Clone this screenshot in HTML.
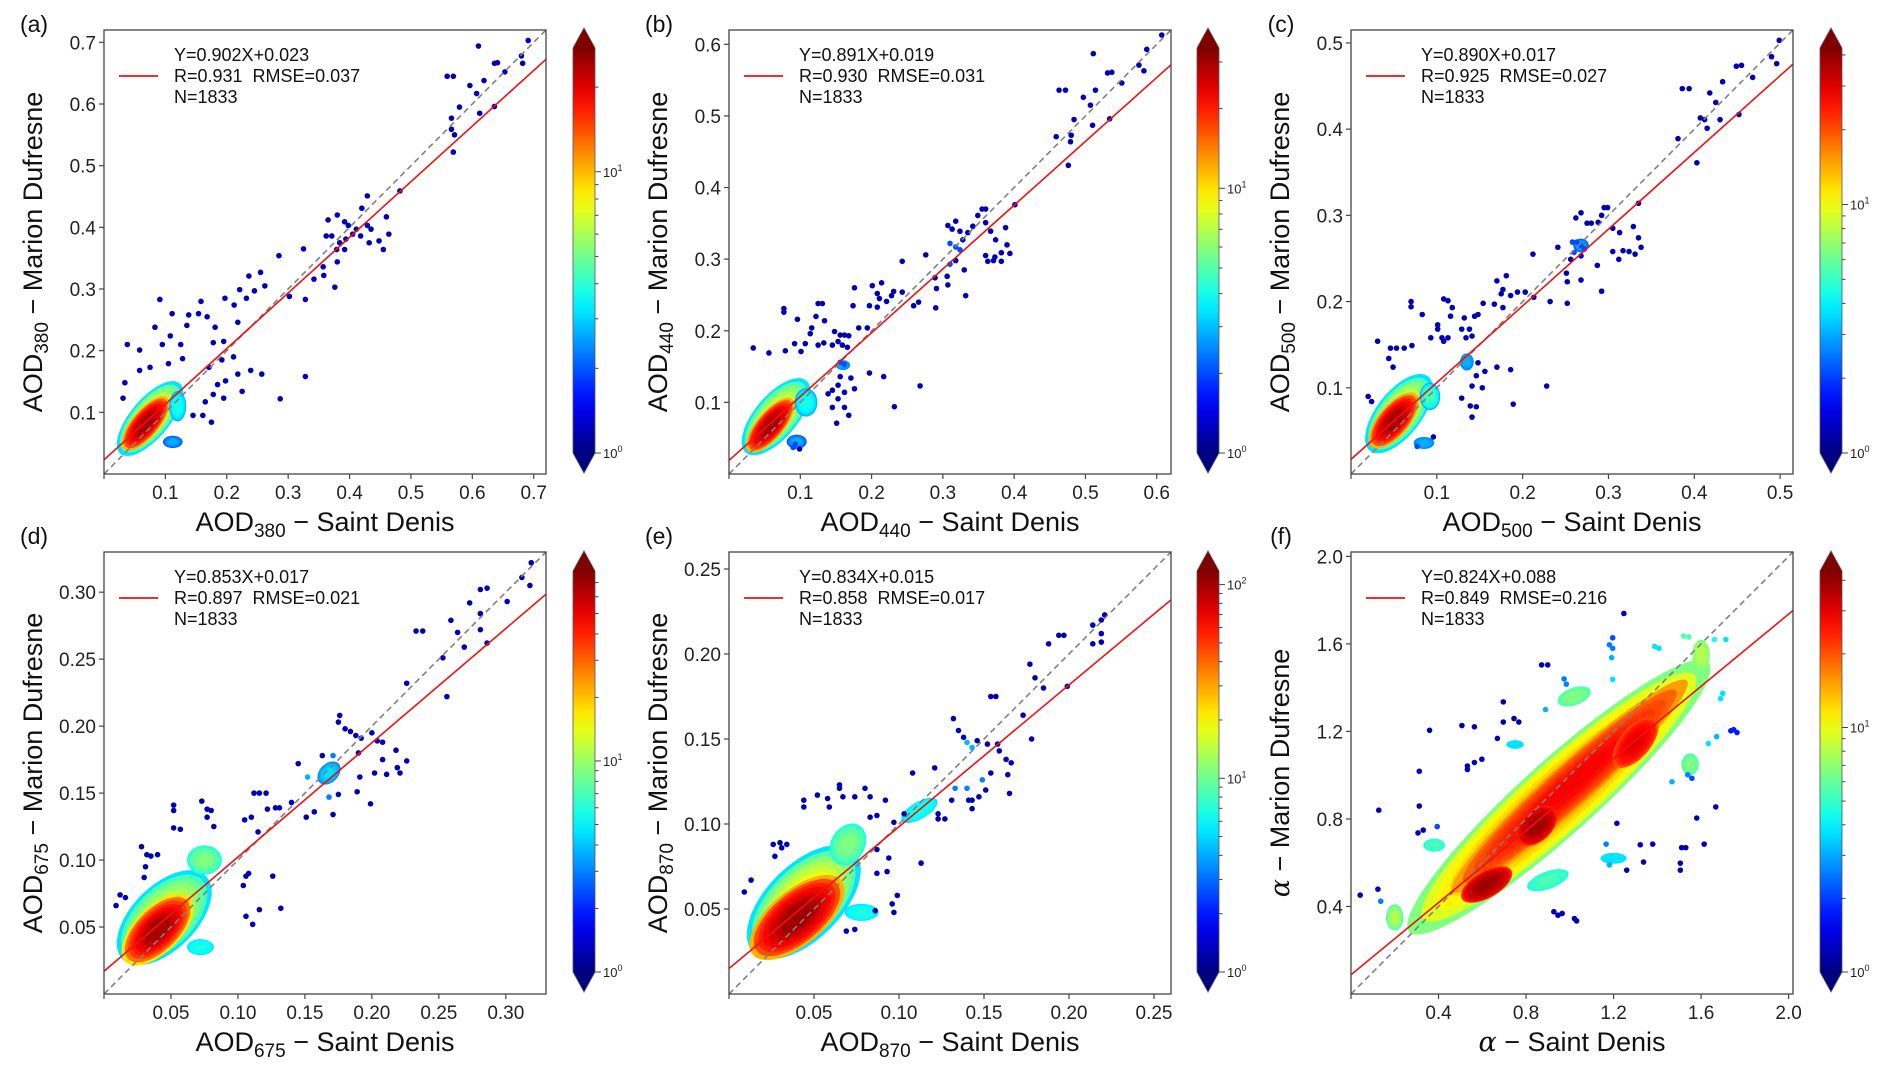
<!DOCTYPE html>
<html><head><meta charset="utf-8"><title>AOD comparison scatter plots</title>
<style>
html,body{margin:0;padding:0;background:#fff;}
svg{display:block;font-family:"Liberation Sans","DejaVu Sans",sans-serif;}
.pre{white-space:pre;}
</style></head>
<body>
<svg id="fig" width="1892" height="1074" viewBox="0 0 1892 1074" xmlns="http://www.w3.org/2000/svg"></svg>
<script>
// ---------- DATA ----------
const panelIds = ['a','b','c','d','e','f'];
const axisMax = [0.72, 0.62, 0.515, 0.33, 0.26, 2.02];
const ticksA = [0.1,0.2,0.3,0.4,0.5,0.6,0.7];
const ticksB = [0.1,0.2,0.3,0.4,0.5,0.6];
const ticksC = [0.1,0.2,0.3,0.4,0.5];
const ticksD = [0.05,0.10,0.15,0.20,0.25,0.30];
const ticksE = [0.05,0.10,0.15,0.20,0.25];
const ticksF = [0.4,0.8,1.2,1.6,2.0];
const tickDigits = [1,1,1,2,2,1];
const slopes = [0.902,0.891,0.890,0.853,0.834,0.824];
const intercepts = [0.023,0.019,0.017,0.017,0.015,0.088];
const rValues = ['0.931','0.930','0.925','0.897','0.858','0.849'];
const rmseValues = ['0.037','0.031','0.027','0.021','0.017','0.216'];
const nValues = ['1833','1833','1833','1833','1833','1833'];
const wavelengths = ['380','440','500','675','870','α'];
const cbarLogMax = [1.44,1.53,1.63,1.90,2.07,1.64];

// density blobs: [cx, cy, halfLength, halfWidth, angleDeg, lowLevel, highLevel]
const blobsA = [[0.075,0.09,0.075,0.032,50,0.35,0.65],[0.068,0.082,0.055,0.022,50,0.7,0.96],[0.112,0.052,0.016,0.01,0,0.2,0.3],[0.12,0.11,0.014,0.025,0,0.3,0.4]];
const blobsB = [[0.066,0.08,0.066,0.03,50,0.35,0.62],[0.058,0.068,0.048,0.019,50,0.7,0.96],[0.095,0.045,0.014,0.01,0,0.2,0.3],[0.16,0.152,0.01,0.007,0,0.25,0.3],[0.108,0.1,0.016,0.02,0,0.3,0.4]];
const blobsC = [[0.056,0.07,0.055,0.026,52,0.35,0.62],[0.05,0.062,0.04,0.018,50,0.7,0.96],[0.085,0.036,0.012,0.007,0,0.25,0.3],[0.268,0.265,0.009,0.008,0,0.2,0.3],[0.135,0.13,0.008,0.01,0,0.25,0.3],[0.092,0.09,0.012,0.016,0,0.3,0.45]];
const blobsD = [[0.045,0.057,0.044,0.024,45,0.35,0.6],[0.04,0.048,0.034,0.017,45,0.65,0.96],[0.168,0.165,0.01,0.007,45,0.25,0.35],[0.075,0.1,0.013,0.011,0,0.4,0.5],[0.072,0.035,0.01,0.006,0,0.35,0.4]];
const blobsE = [[0.044,0.054,0.042,0.022,45,0.35,0.65],[0.04,0.045,0.034,0.016,40,0.7,0.97],[0.07,0.088,0.013,0.01,60,0.4,0.5],[0.112,0.108,0.012,0.005,30,0.35,0.4],[0.078,0.048,0.01,0.005,0,0.35,0.4]];
const blobsF = [[0.95,0.9,0.92,0.17,42,0.5,0.75],[1.0,0.95,0.72,0.1,42,0.72,0.88],[0.62,0.5,0.13,0.06,30,0.85,0.97],[0.85,0.77,0.11,0.07,45,0.85,0.97],[1.3,1.15,0.14,0.07,50,0.8,0.9],[1.02,1.36,0.08,0.04,20,0.45,0.5],[0.2,0.35,0.04,0.06,0,0.45,0.55],[0.75,1.14,0.04,0.02,0,0.35,0.35],[1.55,1.05,0.04,0.05,0,0.45,0.5],[0.9,0.52,0.1,0.04,20,0.4,0.45],[0.38,0.68,0.05,0.03,0,0.4,0.45],[1.2,0.62,0.06,0.025,0,0.35,0.35],[1.6,1.55,0.04,0.07,0,0.5,0.55]];

// individual sparse points: [x, y] (optional 3rd = colour level)
const pointsA = [[0.61,0.694],[0.636,0.666],[0.641,0.667],[0.653,0.652],[0.68,0.678],[0.691,0.703],[0.682,0.666],[0.559,0.645],[0.569,0.645],[0.596,0.63],[0.607,0.617],[0.619,0.638],[0.579,0.595],[0.612,0.585],[0.636,0.596],[0.566,0.577],[0.566,0.559],[0.571,0.55],[0.569,0.522],[0.482,0.459],
[0.365,0.412],[0.38,0.42],[0.392,0.409],[0.398,0.403],[0.371,0.386],[0.384,0.375],[0.394,0.381],[0.379,0.364],[0.405,0.389],[0.418,0.386],[0.411,0.397],[0.38,0.344],[0.376,0.303],[0.429,0.403],[0.435,0.397],[0.432,0.375],[0.448,0.378],[0.455,0.364],[0.46,0.417],[0.464,0.389],[0.42,0.431],[0.429,0.451],[0.362,0.386],[0.392,0.364],
[0.325,0.365],[0.285,0.354],[0.357,0.336],[0.358,0.322],[0.342,0.316],[0.328,0.283],[0.302,0.288],[0.328,0.158],[0.287,0.122],
[0.236,0.321],[0.255,0.327],[0.245,0.297],[0.262,0.305],[0.232,0.285],[0.221,0.299],[0.212,0.274],[0.197,0.285],[0.181,0.238],[0.195,0.215],[0.178,0.213],[0.218,0.246],[0.168,0.255],[0.158,0.28],[0.154,0.26],[0.138,0.258],[0.135,0.241],[0.125,0.21],[0.111,0.26],[0.091,0.283],[0.083,0.238],[0.108,0.224],[0.095,0.21],[0.038,0.21],[0.058,0.201],
[0.192,0.185],[0.171,0.173],[0.185,0.145],[0.178,0.129],[0.198,0.151],[0.211,0.19],[0.218,0.162],[0.225,0.134],[0.239,0.168],[0.257,0.162],[0.165,0.117],[0.175,0.084],[0.161,0.095],[0.145,0.095],[0.195,0.123],
[0.034,0.148],[0.031,0.123],[0.058,0.168],[0.075,0.173],[0.105,0.179],[0.128,0.187]];
const pointsB = [[0.607,0.613],[0.586,0.593],[0.575,0.571],[0.582,0.563],[0.511,0.587],[0.531,0.56],[0.537,0.561],[0.551,0.546],[0.463,0.536],[0.472,0.536],[0.497,0.526],[0.514,0.536],[0.507,0.515],[0.484,0.495],[0.51,0.487],[0.534,0.496],[0.459,0.471],[0.48,0.473],[0.479,0.464],[0.476,0.431],[0.401,0.376],
[0.307,0.347],[0.313,0.342],[0.318,0.353],[0.324,0.339],[0.328,0.327],[0.335,0.337],[0.342,0.346],[0.355,0.37],[0.36,0.37],[0.349,0.361],[0.36,0.351],[0.367,0.339],[0.374,0.327],[0.388,0.344],[0.39,0.32],[0.394,0.308],[0.382,0.309],[0.373,0.303],[0.363,0.297],[0.36,0.305],[0.371,0.298],[0.382,0.297],[0.31,0.322,0.2],[0.318,0.317,0.2],[0.324,0.313,0.2],[0.31,0.293,0.2],[0.318,0.298],[0.33,0.285],[0.332,0.249],[0.307,0.264],[0.306,0.276],[0.291,0.259],[0.29,0.232],[0.276,0.306],[0.268,0.123],[0.232,0.094],[0.243,0.297],
[0.201,0.263],[0.208,0.252],[0.214,0.267],[0.211,0.245],[0.221,0.241],[0.197,0.235],[0.208,0.233],[0.176,0.26],[0.174,0.235],[0.194,0.204],[0.182,0.204],[0.228,0.249],[0.231,0.255],[0.243,0.254],[0.259,0.235],[0.266,0.24],[0.289,0.274],[0.077,0.231],[0.077,0.226],[0.096,0.216],[0.125,0.238],[0.131,0.238],[0.122,0.22],[0.134,0.214],[0.116,0.204],[0.114,0.196],[0.148,0.199],[0.156,0.194],[0.162,0.194],[0.168,0.193],[0.153,0.185],[0.159,0.18],[0.166,0.177],[0.125,0.18],[0.133,0.183],[0.145,0.18],[0.034,0.176],[0.056,0.169],[0.079,0.172],[0.092,0.182],[0.107,0.182],[0.101,0.171],
[0.156,0.156,0.2],[0.162,0.153,0.2],[0.156,0.136],[0.171,0.134],[0.153,0.124],[0.176,0.119],[0.162,0.114],[0.145,0.117],[0.139,0.112],[0.153,0.105],[0.145,0.093],[0.162,0.093],[0.168,0.082],[0.151,0.071],[0.197,0.141],[0.217,0.136],[0.093,0.042,0.2],[0.09,0.037,0.2],[0.099,0.035]];
const pointsC = [[0.499,0.503],[0.49,0.484],[0.496,0.476],[0.449,0.473],[0.455,0.474],[0.468,0.46],[0.433,0.455],[0.425,0.431],[0.418,0.442],[0.386,0.447],[0.394,0.447],[0.407,0.413],[0.412,0.411],[0.43,0.411],[0.415,0.401],[0.381,0.389],[0.452,0.417],[0.403,0.361],
[0.262,0.297],[0.268,0.303],[0.275,0.291],[0.28,0.291],[0.288,0.292],[0.292,0.3],[0.295,0.309],[0.299,0.309],[0.305,0.285],[0.313,0.28],[0.329,0.287],[0.335,0.314],[0.335,0.274],[0.338,0.263],[0.317,0.259],[0.324,0.258],[0.331,0.255],[0.312,0.249],[0.305,0.258],[0.258,0.269,0.2],[0.263,0.269,0.2],[0.268,0.265,0.2],[0.272,0.261,0.2],[0.26,0.257,0.2],[0.256,0.249],[0.268,0.253],[0.241,0.263],[0.251,0.233],[0.252,0.223],[0.268,0.225],[0.287,0.242],[0.292,0.212],[0.252,0.198],[0.232,0.2],[0.228,0.102],[0.212,0.255],
[0.17,0.224],[0.181,0.23],[0.177,0.214],[0.175,0.209],[0.186,0.207],[0.194,0.211],[0.203,0.211],[0.213,0.205],[0.167,0.197],[0.177,0.193],[0.154,0.198],[0.148,0.185],[0.144,0.183],[0.132,0.181],[0.116,0.183],[0.118,0.193],[0.108,0.203],[0.113,0.201],[0.101,0.173],[0.101,0.168],[0.07,0.2],[0.07,0.194],[0.083,0.185],[0.093,0.158],[0.106,0.158],[0.113,0.158],[0.108,0.154],[0.129,0.168],[0.138,0.168],[0.134,0.158],[0.141,0.16],[0.148,0.129],[0.146,0.114],[0.156,0.119],[0.141,0.102],[0.153,0.1],[0.129,0.088],[0.139,0.079],[0.146,0.078],[0.141,0.066],[0.186,0.121],[0.17,0.124],[0.189,0.081],[0.031,0.154],[0.046,0.146],[0.053,0.146],[0.062,0.146],[0.071,0.149],[0.044,0.134],[0.049,0.124],[0.02,0.09],[0.024,0.084],[0.096,0.043],[0.077,0.032,0.2]];
const pointsD = [[0.319,0.322],[0.318,0.305],[0.312,0.311],[0.301,0.293],[0.281,0.302],[0.286,0.303],[0.273,0.292],[0.281,0.284],[0.281,0.272],[0.286,0.262],[0.269,0.259],[0.264,0.27],[0.259,0.279],[0.253,0.251],[0.256,0.222],[0.233,0.271],[0.238,0.271],[0.226,0.232],
[0.176,0.208],[0.175,0.203],[0.18,0.198],[0.184,0.196],[0.188,0.193],[0.192,0.191],[0.2,0.195],[0.204,0.189],[0.208,0.188],[0.19,0.18],[0.218,0.182],[0.208,0.175],[0.226,0.174],[0.219,0.169],[0.221,0.165],[0.211,0.164],[0.202,0.165],[0.191,0.162],[0.189,0.151],[0.199,0.142],[0.145,0.172],[0.163,0.178],[0.171,0.178,0.25],[0.152,0.162,0.3],[0.168,0.147,0.25],[0.175,0.149],[0.171,0.134],[0.151,0.132],[0.157,0.136],[0.14,0.143],
[0.112,0.15],[0.116,0.15],[0.121,0.15],[0.11,0.132],[0.122,0.138],[0.128,0.139],[0.131,0.139],[0.105,0.13],[0.115,0.121],[0.106,0.088],[0.108,0.09],[0.126,0.088],[0.104,0.081],[0.106,0.058],[0.111,0.052],[0.116,0.063],[0.132,0.064],
[0.052,0.141],[0.052,0.137],[0.052,0.124],[0.057,0.123],[0.073,0.144],[0.077,0.138],[0.08,0.137],[0.077,0.132],[0.082,0.125],[0.028,0.11],[0.032,0.104],[0.035,0.103],[0.04,0.104],[0.031,0.095],[0.03,0.087],[0.012,0.074],[0.016,0.072],[0.009,0.066]];
const pointsE = [[0.221,0.223],[0.214,0.217],[0.219,0.22],[0.219,0.212],[0.219,0.207],[0.214,0.206],[0.194,0.211],[0.197,0.211],[0.188,0.206],[0.177,0.194],[0.18,0.186],[0.185,0.18],[0.199,0.181],[0.173,0.164],[0.178,0.15],[0.154,0.175],[0.157,0.175],[0.132,0.162],[0.135,0.155],[0.138,0.151],[0.14,0.148,0.3],[0.143,0.145,0.3],[0.146,0.149],[0.152,0.147],[0.158,0.147],[0.159,0.143],[0.163,0.138],[0.166,0.136],[0.164,0.129],[0.154,0.13],[0.149,0.126,0.25],[0.147,0.116],[0.143,0.114],[0.141,0.114],[0.143,0.109],[0.151,0.12],[0.14,0.121,0.25],[0.133,0.121,0.25],[0.131,0.114],[0.123,0.106],[0.127,0.103],[0.123,0.103],[0.121,0.133],[0.108,0.13],[0.165,0.118],[0.113,0.077],
[0.044,0.114],[0.044,0.11],[0.052,0.117],[0.058,0.115],[0.059,0.11],[0.065,0.123],[0.065,0.121],[0.067,0.116],[0.074,0.116],[0.08,0.121],[0.083,0.116],[0.092,0.114],[0.083,0.104],[0.087,0.105],[0.097,0.101],[0.103,0.106],[0.026,0.088],[0.03,0.089],[0.034,0.088],[0.031,0.086],[0.027,0.081],[0.013,0.067],[0.009,0.06],[0.087,0.085],[0.094,0.08],[0.093,0.072],[0.087,0.071],[0.099,0.058],[0.096,0.053],[0.097,0.048],[0.086,0.049],[0.074,0.038],[0.069,0.037]];
const pointsF = [[0.042,0.452],[0.127,0.84],[0.123,0.479],[0.136,0.424,0.25],[0.312,1.018],[0.312,0.859],[0.306,0.736],[0.33,0.749],[0.359,1.205],[0.394,0.765,0.2],[0.507,1.227],[0.564,1.221],[0.532,1.042],[0.532,1.026],[0.564,1.058],[0.598,1.073],[0.669,1.168],[0.696,1.335],[0.696,1.243],[0.745,1.259],[0.767,1.243],[0.871,1.504],[0.899,1.504],[0.927,0.376],[0.946,0.36],[0.965,0.368],[1.021,0.345],[1.031,0.334],[1.166,0.685,0.25],[1.215,0.78],[1.247,1.739],[1.196,1.628,0.2],[1.181,1.596,0.25],[1.196,1.58,0.25],[1.191,1.537,0.3],[1.196,1.438,0.35],[1.181,0.59,0.3],[1.26,0.566],[1.322,0.682],[1.337,0.603],[1.379,0.685],[1.505,0.566],[1.505,0.598],[1.511,0.669],[1.53,0.669],[1.614,0.685],[1.58,0.804],[1.667,0.855],[1.736,1.203,0.15],[1.749,1.208,0.15],[1.764,1.195,0.15],[1.671,1.176,0.3],[1.633,1.145,0.35],[1.539,1.002,0.25],[1.558,0.986,0.2],[1.467,0.97,0.3],[0.974,1.44,0.25],[0.984,1.416,0.25],[0.889,1.3,0.3],[1.388,1.588,0.35],[1.407,1.58,0.35],[1.661,1.62,0.4],[1.713,1.62,0.35],[1.689,1.35,0.35],[1.699,1.374,0.35],[1.52,1.636,0.45],[1.544,1.632,0.45]];

const tickSets = [ticksA,ticksB,ticksC,ticksD,ticksE,ticksF];
const blobSets = [blobsA,blobsB,blobsC,blobsD,blobsE,blobsF];
const pointSets = [pointsA,pointsB,pointsC,pointsD,pointsE,pointsF];

// ---------- LAYOUT ----------
const boxes = [[104,30,546,474],[729,30,1171,474],[1351,30,1793,474],[104,552,546,994],[729,552,1171,994],[1351,552,1793,994]];
const cbarX = [573,1197,1820,573,1197,1820];

const NS = 'http://www.w3.org/2000/svg';
const svg = document.getElementById('fig');
function el(tag, attrs, parent){const e=document.createElementNS(NS,tag);for(const k in attrs)e.setAttribute(k,attrs[k]);(parent||svg).appendChild(e);return e;}
function jet(t){const f=v=>Math.round(255*Math.max(0,Math.min(1,v)));return 'rgb('+f(1.5-Math.abs(4*t-3))+','+f(1.5-Math.abs(4*t-2))+','+f(1.5-Math.abs(4*t-1))+')';}

const defs = el('defs',{});
const grad = el('linearGradient',{id:'jetgrad',x1:0,y1:1,x2:0,y2:0},defs);
for(let i=0;i<=20;i++){el('stop',{offset:(i/20),'stop-color':jet(i/20)},grad);}

panelIds.forEach((pid,p)=>{
  const [L,T,R,B] = boxes[p];
  const max = axisMax[p];
  const sx = v => L + v/max*(R-L);
  const sy = v => B - v/max*(B-T);
  const g = el('g',{});
  
  
  const cp = el('clipPath',{id:'clip'+pid},defs);
  el('rect',{x:L,y:T,width:R-L,height:B-T},cp);
  const plot = el('g',{'clip-path':'url(#clip'+pid+')'},g);
  
  
  const kx = (R-L)/max;
  blobSets[p].forEach(b=>{
    const [cx,cy,a,w,ang,lo,hi]=b;
    const n=8;
    for(let i=0;i<n;i++){
      const s=1-0.75*i/n;
      const lev=lo+(hi-lo)*Math.sqrt(i/(n-1));
      const e=el('ellipse',{cx:sx(cx),cy:sy(cy),rx:Math.max(1,a*kx*s),ry:Math.max(1,w*kx*s),fill:jet(lev),transform:'rotate('+(-ang)+' '+sx(cx)+' '+sy(cy)+')'},plot);
      
      
    }
  });
  pointSets[p].forEach(pt=>{
    const c=el('circle',{cx:sx(pt[0]),cy:sy(pt[1]),r:2.8,fill:jet(pt.length>2?pt[2]:0.05)},plot);
    
    
  });
  const one=el('line',{x1:sx(0),y1:sy(0),x2:sx(max),y2:sy(max),stroke:'#808080','stroke-width':1.6,'stroke-dasharray':'6,4'},plot);
  
  
  const reg=el('line',{x1:sx(0),y1:sy(intercepts[p]),x2:sx(max),y2:sy(slopes[p]*max+intercepts[p]),stroke:'#ee1111','stroke-width':1.6},plot);
  
  
  const fr=el('rect',{x:L,y:T,width:R-L,height:B-T,fill:'none',stroke:'#444','stroke-width':1.3},g);
  
  
  tickSets[p].forEach(t=>{
    const lab=t.toFixed(tickDigits[p]);
    el('line',{x1:sx(t),y1:B,x2:sx(t),y2:B+5,stroke:'#444','stroke-width':1.2},g);
    const xt=el('text',{x:sx(t),y:B+25,'font-size':19,'text-anchor':'middle',fill:'#222'},g);
    xt.textContent=lab;
    
    
    el('line',{x1:L-5,y1:sy(t),x2:L,y2:sy(t),stroke:'#444','stroke-width':1.2},g);
    const yt=el('text',{x:L-8,y:sy(t)+7,'font-size':19,'text-anchor':'end',fill:'#222'},g);
    yt.textContent=lab;
    
    
  });
  el('line',{x1:L,y1:B,x2:L,y2:B+5,stroke:'#444','stroke-width':1.2},g);
  const wl=wavelengths[p];
  const xl=el('text',{x:(L+R)/2,y:B+57,'font-size':27,'text-anchor':'middle',fill:'#111'},g);
  
  
  const ylx=L-62, yly=(T+B)/2;
  const yl=el('text',{x:ylx,y:yly,'font-size':27,'text-anchor':'middle',fill:'#111',transform:'rotate(-90 '+ylx+' '+yly+')'},g);
  
  
  if(wl==='α'){
    xl.innerHTML='<tspan font-style="italic" font-family="DejaVu Serif, serif">α</tspan> − Saint Denis';
    yl.innerHTML='<tspan font-style="italic" font-family="DejaVu Serif, serif">α</tspan> − Marion Dufresne';
  } else {
    xl.innerHTML='AOD<tspan font-size="19" dy="6">'+wl+'</tspan><tspan dy="-6"> − Saint Denis</tspan>';
    yl.innerHTML='AOD<tspan font-size="19" dy="6">'+wl+'</tspan><tspan dy="-6"> − Marion Dufresne</tspan>';
  }
  const pl=el('text',{x:L-70,y:(p<3?32:544),'font-size':23,'text-anchor':'middle',fill:'#111'},g);
  pl.textContent='('+pid+')';
  
  
  const lg=el('g',{},g);
  
  
  el('line',{x1:L+15,y1:T+46,x2:L+54,y2:T+46,stroke:'#ee1111','stroke-width':1.8},lg);
  const lines=['Y='+slopes[p].toFixed(3)+'X+'+intercepts[p].toFixed(3),'R='+rValues[p]+'\u00a0\u00a0RMSE='+rmseValues[p],'N='+nValues[p]];
  lines.forEach((s,i)=>{
    const t=el('text',{x:L+70,y:T+31+i*21,'font-size':18,fill:'#111','class':'pre'},lg);
    t.textContent=s;
    
    
  });
  const cx0=cbarX[p], cw=22;
  const tipT=(p<3?28:551), tipB=(p<3?473:992);
  const bodyT=tipT+20, bodyB=tipB-20;
  const cb=el('g',{},g);
  
  
  el('rect',{x:cx0,y:bodyT,width:cw,height:bodyB-bodyT,fill:'url(#jetgrad)'},cb);
  el('polygon',{points:cx0+','+bodyT+' '+(cx0+cw)+','+bodyT+' '+(cx0+cw/2)+','+tipT,fill:jet(1)},cb);
  el('polygon',{points:cx0+','+bodyB+' '+(cx0+cw)+','+bodyB+' '+(cx0+cw/2)+','+tipB,fill:jet(0)},cb);
  el('polygon',{points:cx0+','+bodyT+' '+(cx0+cw/2)+','+tipT+' '+(cx0+cw)+','+bodyT+' '+(cx0+cw)+','+bodyB+' '+(cx0+cw/2)+','+tipB+' '+cx0+','+bodyB,fill:'none',stroke:'#555','stroke-width':0.8},cb);
  const lmax=cbarLogMax[p];
  for(let d=0;d<=2;d++){
    for(let k=1;k<=9;k++){
      const lv=d+Math.log10(k);
      if(lv>lmax) continue;
      const y=bodyB-lv/lmax*(bodyB-bodyT);
      el('line',{x1:cx0+cw,y1:y,x2:cx0+cw+(k===1?6:3.5),y2:y,stroke:'#444','stroke-width':1},cb);
      if(k===1){
        const t=el('text',{x:cx0+cw+8,y:y+5,'font-size':13,fill:'#222'},cb);
        t.innerHTML='10<tspan font-size="9" dy="-6">'+d+'</tspan>';
        
        
      }
    }
  }
});
</script>
</body></html>
